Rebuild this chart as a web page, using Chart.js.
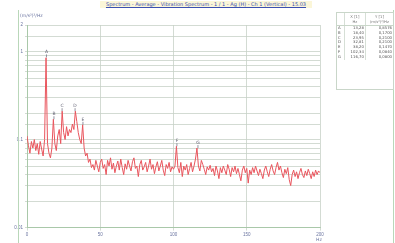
<!DOCTYPE html>
<html><head><meta charset="utf-8">
<script src="https://cdn.jsdelivr.net/npm/chart.js@4"></script>
<style>
html,body{margin:0;padding:0;background:#fff;}
#wrap{position:relative;width:395px;height:243px;overflow:hidden;font-family:"DejaVu Sans",sans-serif;}
#frameL{position:absolute;left:18px;top:10px;width:1px;height:233px;background:#b9d7b9;}
#frameR{position:absolute;left:393px;top:10px;width:1px;height:233px;background:#b9d7b9;}
#title{position:absolute;left:100px;top:1px;width:212px;height:7px;font-size:5px;line-height:7px;color:#3a4fb0;background:#fbf6d8;text-align:center;white-space:nowrap;text-decoration:underline;}
#yunit{position:absolute;left:20px;top:13px;font-size:4.5px;color:#6a74a0;}
#xunit{position:absolute;left:316px;top:237px;font-size:4.5px;color:#6a74a0;}
#tbl{position:absolute;left:336px;top:12px;width:56px;height:76px;border:1px solid #c9d6c9;font-size:3.8px;color:#555;}
#tbl table{border-collapse:collapse;width:100%;}
#tbl td{padding:0 1px;line-height:4.8px;text-align:right;}
#tbl td.l{text-align:left;width:5px;border-right:1px solid #d6dfd6;}
#tbl td.m{border-right:1px solid #d6dfd6;}
#tbl thead td{text-align:center;line-height:5px;color:#777;border-bottom:1px solid #c9d6c9;padding-top:1px;padding-bottom:1px;}
canvas{position:absolute;left:0;top:0;}
</style></head>
<body><div id="wrap">
<canvas id="c" width="395" height="243"></canvas>
<div id="frameL"></div><div id="frameR"></div>
<div id="title">Spectrum - Average - Vibration Spectrum - 1 / 1 - Ag (H) - Ch 1 (Vertical) - 15.03</div>
<div id="yunit">(m/s²)²/Hz</div>
<div id="xunit">Hz</div>
<div id="tbl"></div>
</div>
<script>
const freqs = [];
for (let i = 0; i <= 200; i++) freqs.push(i);
const psd = [
0.11,0.085,0.07,0.095,0.08,0.1,0.075,0.09,0.068,0.095,
0.078,0.065,0.1,0.85,0.09,0.07,0.062,0.08,0.17,0.09,
0.075,0.11,0.13,0.09,0.21,0.12,0.1,0.14,0.11,0.13,
0.12,0.15,0.13,0.21,0.16,0.12,0.1,0.09,0.147,0.08,
0.065,0.07,0.055,0.06,0.048,0.052,0.045,0.058,0.05,0.043,
0.055,0.06,0.047,0.052,0.04,0.058,0.05,0.062,0.046,0.054,
0.042,0.05,0.057,0.045,0.06,0.048,0.04,0.053,0.046,0.058,
0.05,0.044,0.056,0.062,0.047,0.05,0.038,0.052,0.058,0.045,
0.049,0.055,0.043,0.05,0.06,0.046,0.052,0.041,0.049,0.056,
0.044,0.05,0.058,0.045,0.039,0.052,0.047,0.055,0.043,0.049,
0.046,0.05,0.084,0.048,0.042,0.055,0.038,0.05,0.045,0.052,
0.04,0.047,0.055,0.043,0.05,0.06,0.08,0.05,0.044,0.058,
0.052,0.046,0.04,0.049,0.045,0.051,0.043,0.047,0.039,0.05,
0.044,0.036,0.048,0.042,0.05,0.045,0.04,0.052,0.046,0.038,
0.048,0.043,0.05,0.041,0.047,0.04,0.034,0.045,0.05,0.042,
0.047,0.032,0.045,0.04,0.048,0.042,0.05,0.044,0.039,0.046,
0.041,0.036,0.045,0.05,0.043,0.038,0.046,0.052,0.044,0.04,
0.048,0.055,0.045,0.05,0.042,0.037,0.046,0.041,0.048,0.035,
0.03,0.04,0.045,0.038,0.043,0.036,0.042,0.047,0.04,0.037,
0.044,0.039,0.046,0.041,0.036,0.043,0.038,0.045,0.04,0.044,
0.042];
const peakLabels = ["A","B","C","D","E","F","G"];
const peakX = [13.28,18.40,23.95,32.81,38.20,102.34,116.70];
const peakY = [0.8576,0.1700,0.2100,0.2100,0.1470,0.0840,0.0800];
const yTickLabels = [0.01,0.1,1,2];

// table
(function(){
  let h = '<table><thead><tr><td class="l"></td><td class="m">X [1]<br>Hz</td><td>Y [1]<br>(m/s²)²/Hz</td></tr></thead><tbody>';
  const f = (v,d)=>v.toFixed(d).replace('.',',');
  for (let i=0;i<peakLabels.length;i++){
    h += '<tr><td class="l">'+peakLabels[i]+'</td><td class="m">'+f(peakX[i],2)+'</td><td>'+f(peakY[i],4)+'</td></tr>';
  }
  h += '</tbody></table>';
  document.getElementById('tbl').innerHTML = h;
})();

const pts = freqs.map((x,i)=>({x:x,y:psd[i]}));

const peakPlugin = {
  id:'peaks',
  afterDatasetsDraw(chart){
    const {ctx, scales:{x,y}} = chart;
    ctx.save();
    ctx.fillStyle = '#667';
    ctx.strokeStyle = '#778';
    ctx.lineWidth = 0.8;
    ctx.font = '4.5px "DejaVu Sans"';
    ctx.textAlign = 'center';
    for (let i=0;i<peakX.length;i++){
      const px = x.getPixelForValue(peakX[i]);
      const py = y.getPixelForValue(peakY[i]);
      ctx.fillText(peakLabels[i], px, py-4);
      ctx.beginPath(); ctx.moveTo(px, py-3); ctx.lineTo(px, py); ctx.stroke();
    }
    ctx.restore();
  }
};

new Chart(document.getElementById('c'), {
  type:'line',
  data:{datasets:[{data:pts, borderColor:'#e9555d', borderWidth:1, pointRadius:0, tension:0, fill:false}]},
  options:{
    responsive:false, animation:false,
    layout:{padding:{left:0,right:75,top:25,bottom:5}},
    plugins:{legend:{display:false}, tooltip:{enabled:false}},
    scales:{
      x:{type:'linear', min:0, max:200,
        ticks:{stepSize:50, font:{size:4.5}, color:'#6a74a0', padding:1, maxRotation:0},
        grid:{color:'#c8d2c8', lineWidth:0.8, tickLength:3},
        border:{color:'#a9c8a9'}
      },
      y:{type:'logarithmic', min:0.01, max:2,
        afterFit(s){ s.width = 27; },
        ticks:{font:{size:4.5}, color:'#6a74a0', padding:2,
          callback:(v)=> yTickLabels.includes(Number(v.toPrecision(3))) ? String(v) : ''},
        grid:{color:'#c8d2c8', lineWidth:0.8, tickLength:2},
        border:{color:'#a9c8a9'}
      }
    }
  },
  plugins:[peakPlugin]
});
</script>
</body></html>
